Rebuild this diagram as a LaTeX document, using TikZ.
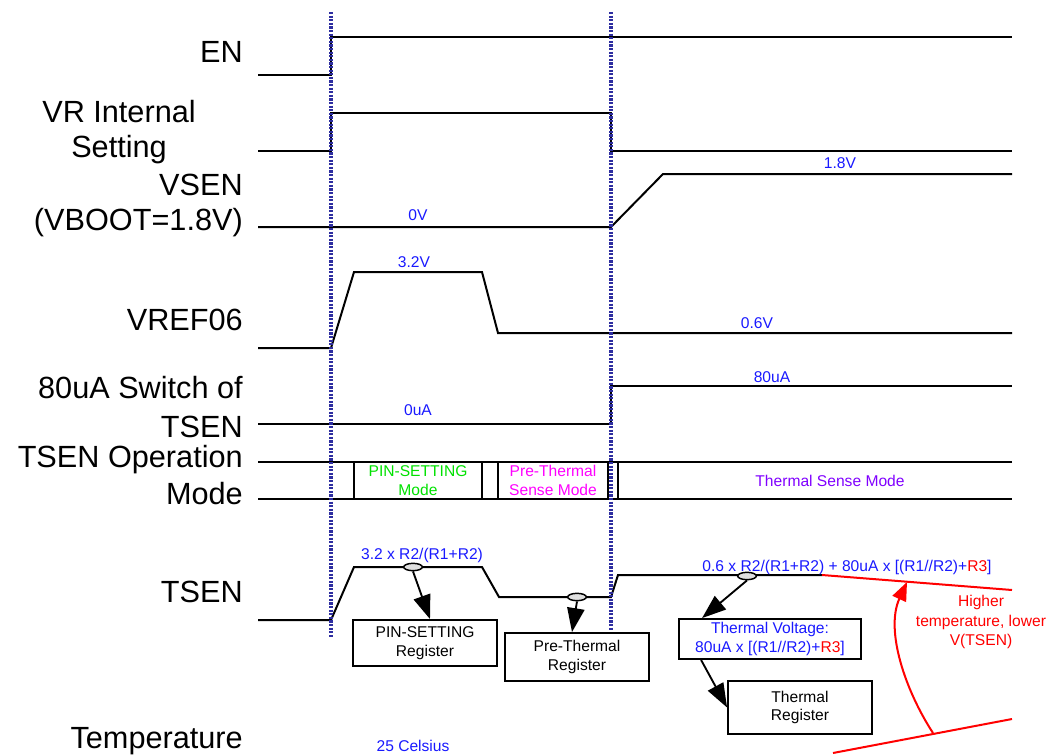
\documentclass[tikz,border=0pt]{standalone}
\usepackage{fontspec}
\setmainfont{Liberation Sans}
\usetikzlibrary{arrows.meta,shapes.geometric,calc}
\definecolor{vline}{RGB}{45,45,160}
\definecolor{tblue}{RGB}{25,25,255}
\definecolor{tred}{RGB}{255,0,0}
\definecolor{tgreen}{RGB}{0,225,0}
\definecolor{tmag}{RGB}{255,0,255}
\definecolor{tviol}{RGB}{128,0,255}
\begin{document}
\begin{tikzpicture}[x=0.75pt,y=-0.75pt,
  big/.style={font=\fontsize{23}{27}\selectfont, inner sep=0pt},
  lbl/.style={font=\fontsize{11.7}{14.5}\selectfont, text=tblue, inner sep=0pt},
  wave/.style={line width=1.5pt, line join=miter},
  guide/.style={vline, line width=2.4pt, dash pattern=on 1.6pt off 1.1pt},
  regbox/.style={draw, line width=1.4pt, font=\fontsize{11.7}{14}\selectfont, align=center, inner sep=0pt},
  tap/.style={ellipse, draw, line width=1.1pt, fill=gray!25, minimum width=14pt, minimum height=5.5pt, inner sep=0pt},
  ptr/.style={line width=1.4pt, -{Triangle[length=18pt,width=13pt]}},
  redl/.style={tred, line width=1.5pt}]
\useasboundingbox (0,0) rectangle (1050,754);

% left labels
\node[big, anchor=base east] (lEN) at (243,62) {EN};
\node[big, anchor=base] (lVR1) at (119,122) {VR Internal};
\node[big, anchor=base] (lVR2) at (119,157) {Setting};
\node[big, anchor=base east] (lVS1) at (243,195) {VSEN};
\node[big, anchor=base east] (lVS2) at (243,230) {(VBOOT=1.8V)};
\node[big, anchor=base east] (lREF) at (243,330) {VREF06};
\node[big, anchor=base east] (lSW1) at (243,398) {80uA Switch of};
\node[big, anchor=base east] (lSW2) at (243,437) {TSEN};
\node[big, anchor=base east] (lOP1) at (243,467) {TSEN Operation};
\node[big, anchor=base east] (lOP2) at (243,504) {Mode};
\node[big, anchor=base east] (lTS) at (243,602) {TSEN};
\node[big, anchor=base east] (lTE) at (243,748) {Temperature};

% waveforms
\draw[wave] (258,75) -- (331,75) -- (331,37) -- (1012,37);
\draw[wave] (258,151) -- (331,151) -- (331,113) -- (611,113) -- (611,151) -- (1012,151);
\draw[wave] (258,227) -- (611,227) -- (663,174) -- (1012,174);
\draw[wave] (258,348) -- (331,348) -- (354,272) -- (482,272) -- (498,333) -- (1012,333);
\draw[wave] (258,424) -- (611,424) -- (611,386) -- (1012,386);
\draw[wave] (258,462) -- (1012,462);
\draw[wave] (258,499) -- (1012,499);
\draw[wave] (258,620) -- (331,620) -- (354,567) -- (482,567) -- (499,597) -- (611,597) -- (618,575) -- (822,575);

% value labels
\node[lbl] (v0V) at (418,215) {0V};
\node[lbl] (v18) at (840,163) {1.8V};
\node[lbl] (v32) at (414,262) {3.2V};
\node[lbl] (v06) at (757,323) {0.6V};
\node[lbl] (v0uA) at (418,410) {0uA};
\node[lbl] (v80) at (772,377) {80uA};
\node[lbl] (vpin) at (422,555) {3.2 x R2/(R1+R2)};
\node[lbl] (vth) at (847,567) {0.6 x R2/(R1+R2) + 80uA x [(R1//R2)+\textcolor{tred}{R3}]};
\node[lbl] (v25) at (413,746) {25 Celsius};

% operation mode boxes
\node[regbox, minimum width=96pt, minimum height=28.5pt, text=tgreen] (pinmode) at (418,480.5) {PIN-SETTING\\Mode};
\node[regbox, minimum width=82.5pt, minimum height=28.5pt, text=tmag] (premode) at (553,480.5) {Pre-Thermal\\Sense Mode};
\draw[wave] (1012,462) -- (618,462) -- (618,499) -- (1012,499);
\node[lbl, text=tviol] (thmode) at (830,481) {Thermal Sense Mode};

% registers
\node[regbox, minimum width=108pt, minimum height=34.5pt] (pinreg) at (425,643) {PIN-SETTING\\Register};
\node[regbox, minimum width=108pt, minimum height=36pt] (prereg) at (577,657) {Pre-Thermal\\Register};
\node[regbox, minimum width=136.5pt, minimum height=30pt, text=tblue] (tv) at (770,639) {Thermal Voltage:\\80uA x [(R1//R2)+\textcolor{tred}{R3}]};
\node[regbox, minimum width=108pt, minimum height=39.75pt] (treg) at (800,707.5) {Thermal\\Register};

% sampling points
\node[tap] (e1) at (413,567) {};
\node[tap] (e2) at (577,597) {};
\node[tap] (e3) at (747,576) {};

\draw[ptr] (e1.south) -- ($(pinreg.north)+(5,0)$);
\draw[ptr] (e2.south) -- ($(prereg.north)+(-5,0)$);
\draw[ptr] (e3.south) -- ($(tv.north west)+(24,0)$);
\draw[ptr] ($(tv.south west)+(23,0)$) -- (treg.west);

% guides
\coordinate (g1t) at (331,12);
\coordinate (g1b) at (331,637);
\coordinate (g2t) at (611,12);
\coordinate (g2b) at (611,630);
\draw[guide] (g1t) -- (g1b);
\draw[guide] (g2t) -- (g2b);

% temperature trend
\coordinate (hiA) at (822,575);
\coordinate (hiB) at (1012,590);
\coordinate (loA) at (833,753);
\coordinate (loB) at (1012,719);
\coordinate (arS) at (933,733);
\coordinate (arE) at (907,582);
\draw[redl] (hiA) -- (hiB);
\draw[redl] (loA) -- (loB);
\draw[redl, -{Triangle[length=14pt,width=11pt]}] (arS) .. controls (905,690) and (885,630) .. (arE);
\node[lbl, text=tred, align=center] (note) at (981,622) {Higher\\temperature, lower\\V(TSEN)};
\end{tikzpicture}
\end{document}
